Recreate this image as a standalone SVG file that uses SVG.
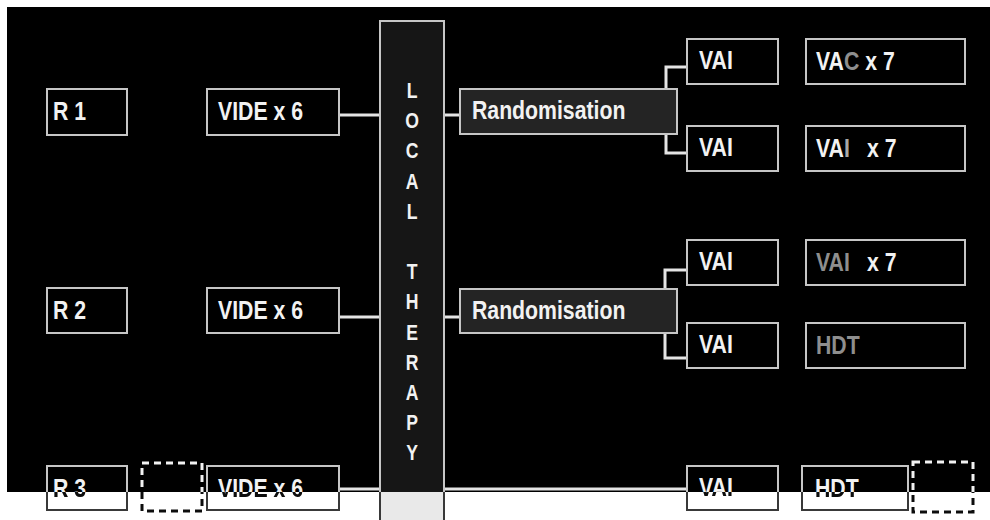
<svg xmlns="http://www.w3.org/2000/svg" xmlns:xlink="http://www.w3.org/1999/xlink" width="990" height="520" viewBox="0 0 990 520">
<defs>
<style>
.box{fill:#000;stroke:#c6c6c6;stroke-width:2}
.rand{fill:#242424;stroke:#c6c6c6;stroke-width:2}
.col{fill:#161616;stroke:#c6c6c6;stroke-width:2}
.dash{fill:none;stroke:#f2f2f2;stroke-width:3;stroke-dasharray:7 5}
.conn{fill:none;stroke:#e4e4e4;stroke-width:3}
.t{font-family:"Liberation Sans",Arial,sans-serif;font-weight:bold;font-size:25px;fill:#f2f2f2}
.g{fill:#8e8e8e}
.lt{font-family:"Liberation Sans",Arial,sans-serif;font-weight:bold;font-size:22px;fill:#f2f2f2;text-anchor:middle}
</style>
<clipPath id="bot"><rect x="0" y="492" width="990" height="28"/></clipPath>
<filter id="inv" filterUnits="userSpaceOnUse" x="0" y="0" width="990" height="520" color-interpolation-filters="sRGB">
<feColorMatrix type="matrix" values="-1 0 0 0 1 0 -1 0 0 1 0 0 -1 0 1 0 0 0 1 0"/>
</filter>
</defs>
<rect x="0" y="0" width="990" height="520" fill="#fff"/>
<g id="diagram">
<rect x="7" y="7" width="983" height="513" fill="#000"/>
<g id="connectors">
<path class="conn" d="M339,115 H380"/>
<path class="conn" d="M444,115 H460"/>
<path class="conn" d="M339,317 H380"/>
<path class="conn" d="M444,317 H460"/>
<path class="conn" d="M666,90 V67 H687"/>
<path class="conn" d="M666,134 V153 H687"/>
<path class="conn" d="M665,289 V270 H687"/>
<path class="conn" d="M665,333 V358 H687"/>
<path class="conn" d="M339,489 H380"/>
<path class="conn" d="M444,489 H687"/>
</g>
<g id="local-therapy">
<rect class="col" x="380" y="21" width="64" height="510"/>
<text class="lt" transform="translate(412,98) scale(0.8,1)">L</text>
<text class="lt" transform="translate(412,128) scale(0.8,1)">O</text>
<text class="lt" transform="translate(412,158) scale(0.8,1)">C</text>
<text class="lt" transform="translate(412,189) scale(0.8,1)">A</text>
<text class="lt" transform="translate(412,219) scale(0.8,1)">L</text>
<text class="lt" transform="translate(412,279) scale(0.8,1)">T</text>
<text class="lt" transform="translate(412,309) scale(0.8,1)">H</text>
<text class="lt" transform="translate(412,340) scale(0.8,1)">E</text>
<text class="lt" transform="translate(412,370) scale(0.8,1)">R</text>
<text class="lt" transform="translate(412,400) scale(0.8,1)">A</text>
<text class="lt" transform="translate(412,430) scale(0.8,1)">P</text>
<text class="lt" transform="translate(412,460) scale(0.8,1)">Y</text>
</g>
<g id="r1"><rect class="box" x="47" y="89" width="80" height="46"/><text class="t" transform="translate(53,120) scale(0.85,1)">R 1</text></g>
<g id="r2"><rect class="box" x="47" y="288" width="80" height="45"/><text class="t" transform="translate(53,319) scale(0.85,1)">R 2</text></g>
<g id="r3"><rect class="box" x="47" y="466" width="80" height="44"/><text class="t" transform="translate(53,497) scale(0.85,1)">R 3</text></g>
<g id="dash-left"><rect class="dash" x="142" y="463" width="60" height="48"/></g>
<g id="vide1"><rect class="box" x="207" y="89" width="132" height="46"/><text class="t" transform="translate(218,120) scale(0.85,1)">VIDE x 6</text></g>
<g id="vide2"><rect class="box" x="207" y="288" width="132" height="45"/><text class="t" transform="translate(218,319) scale(0.85,1)">VIDE x 6</text></g>
<g id="vide3"><rect class="box" x="207" y="466" width="132" height="44"/><text class="t" transform="translate(218,497) scale(0.85,1)">VIDE x 6</text></g>
<g id="rand1"><rect class="rand" x="460" y="89" width="217" height="45"/><text class="t" transform="translate(472,119) scale(0.85,1)">Randomisation</text></g>
<g id="rand2"><rect class="rand" x="460" y="289" width="217" height="44"/><text class="t" transform="translate(472,319) scale(0.85,1)">Randomisation</text></g>
<g id="vai1"><rect class="box" x="687" y="39" width="91" height="45"/><text class="t" transform="translate(699,69) scale(0.85,1)">VAI</text></g>
<g id="vai2"><rect class="box" x="687" y="126" width="91" height="45"/><text class="t" transform="translate(699,156) scale(0.85,1)">VAI</text></g>
<g id="vai3"><rect class="box" x="687" y="240" width="91" height="45"/><text class="t" transform="translate(699,270) scale(0.85,1)">VAI</text></g>
<g id="vai4"><rect class="box" x="687" y="323" width="91" height="45"/><text class="t" transform="translate(699,353) scale(0.85,1)">VAI</text></g>
<g id="vai5"><rect class="box" x="687" y="466" width="91" height="44"/><text class="t" transform="translate(699,496) scale(0.85,1)">VAI</text></g>
<g id="vac7"><rect class="box" x="806" y="39" width="159" height="45"/><text class="t" transform="translate(816,70) scale(0.85,1)">VA<tspan class="g">C</tspan> x 7</text></g>
<g id="vai7a"><rect class="box" x="806" y="126" width="159" height="45"/><text class="t" transform="translate(816,157) scale(0.85,1)">VA<tspan fill="#a8a8a8">I</tspan> <tspan x="60">x 7</tspan></text></g>
<g id="vai7b"><rect class="box" x="806" y="240" width="159" height="45"/><text class="t" transform="translate(816,271) scale(0.85,1)"><tspan class="g">VAI </tspan><tspan x="60">x 7</tspan></text></g>
<g id="hdt1"><rect class="box" x="806" y="323" width="159" height="45"/><text class="t g" transform="translate(816,354) scale(0.85,1)">HDT</text></g>
<g id="hdt2"><rect class="box" x="802" y="466" width="106" height="44"/><text class="t" transform="translate(815,497) scale(0.85,1)">HDT</text></g>
<g id="dash-right"><rect class="dash" x="913" y="462" width="60" height="50"/></g>
</g>
<use xlink:href="#diagram" clip-path="url(#bot)" filter="url(#inv)"/>
</svg>
